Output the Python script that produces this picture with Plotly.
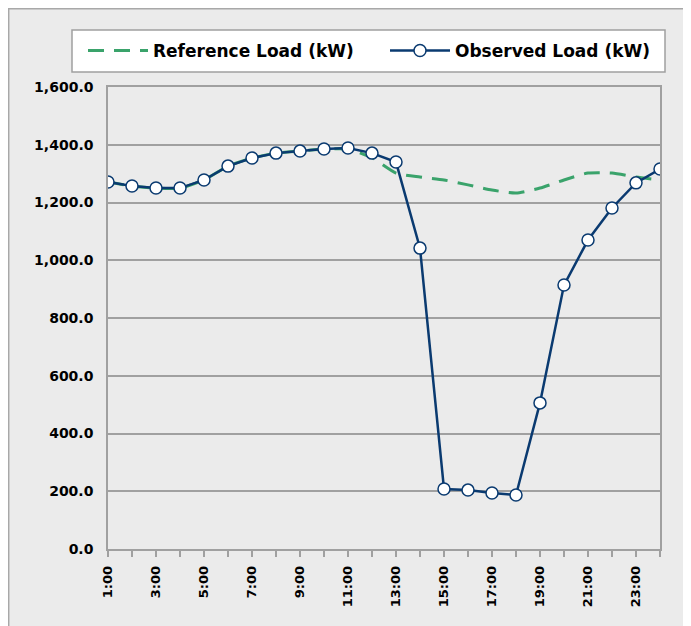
import plotly.graph_objects as go

# hourly data
hours = ["%d:00" % h for h in range(1, 25)]
hour_num = list(range(1, 25))
observed_kw = [1271, 1257, 1250, 1250, 1278, 1326, 1354, 1371, 1378, 1385, 1389, 1371,
               1340, 1042, 208, 204, 194, 187, 506, 914, 1070, 1181, 1268, 1316]
reference_kw = [1271, 1257, 1250, 1250, 1278, 1326, 1354, 1371, 1378, 1385, 1385, 1355,
                1302, 1288, 1278, 1261, 1243, 1233, 1250, 1278, 1302, 1302, 1288, 1278]
y_ticks = [0, 200, 400, 600, 800, 1000, 1200, 1400, 1600]

NAVY = "#0a3a70"
GREEN = "#3aa36b"
GRID = "#a0a0a0"
FONT = "DejaVu Sans"

fig = go.Figure()
fig.add_trace(go.Scatter(
    x=hour_num, y=reference_kw, name="Reference Load (kW)", mode="lines",
    line=dict(color=GREEN, width=3, dash="16px,10px", shape="spline", smoothing=0.6),
    legend="legend"))
fig.add_trace(go.Scatter(
    x=hour_num, y=observed_kw, name="Observed Load (kW)", mode="lines+markers",
    line=dict(color=NAVY, width=2.5),
    marker=dict(symbol="circle", size=12, color="white", line=dict(color=NAVY, width=1.5)),
    legend="legend2"))

# screen pixel -> paper (plot area spans 108..660 across, 87..549 down on screen)
def px(x): return (x - 108) / 552
def py(y): return (549 - y) / 462

leg_font = dict(family=FONT, size=17, color="black", weight="bold")
fig.update_layout(
    width=691, height=626,
    margin=dict(l=100, r=39, t=79, b=85),
    paper_bgcolor="#ebebeb", plot_bgcolor="white",
    font=dict(family=FONT, size=13, color="black"),
    showlegend=True,
    legend=dict(orientation="h", x=px(83), y=py(51), xanchor="left", yanchor="middle",
                bgcolor="rgba(0,0,0,0)", borderwidth=0, font=leg_font, itemwidth=60),
    legend2=dict(orientation="h", x=px(385), y=py(51), xanchor="left", yanchor="middle",
                 bgcolor="rgba(0,0,0,0)", borderwidth=0, font=leg_font, itemwidth=60),
    shapes=[
        # outer chart frame
        dict(type="rect", xref="paper", yref="paper", layer="below",
             x0=px(8.7), x1=px(720), y0=py(700), y1=py(8.7),
             fillcolor="#ebebeb", line=dict(color="#a8a8a8", width=1.5)),
        # legend box
        dict(type="rect", xref="paper", yref="paper", layer="below",
             x0=px(72), x1=px(665), y0=py(72), y1=py(30),
             fillcolor="white", line=dict(color="#a0a0a0", width=1.5)),
    ],
)

fig.update_xaxes(
    range=[1, 24], tickvals=hour_num,
    ticktext=[h if i % 2 == 0 else "" for i, h in enumerate(hours)],
    tickangle=-90, ticks="outside", ticklen=6, tickcolor=GRID, tickwidth=1.5,
    tickfont=dict(family=FONT, size=13, weight="bold"), ticklabelstandoff=4,
    showgrid=False, zeroline=False,
    showline=True, linecolor=GRID, linewidth=1.5, mirror=True)
fig.update_yaxes(
    range=[0, 1600], tickvals=y_ticks, tickformat=",.1f",
    ticks="", tickfont=dict(family=FONT, size=14, weight="bold"), ticklabelstandoff=10,
    showgrid=True, gridcolor=GRID, gridwidth=1.5, zeroline=False,
    showline=True, linecolor=GRID, linewidth=1.5, mirror=True)

fig.write_html("out.html")
